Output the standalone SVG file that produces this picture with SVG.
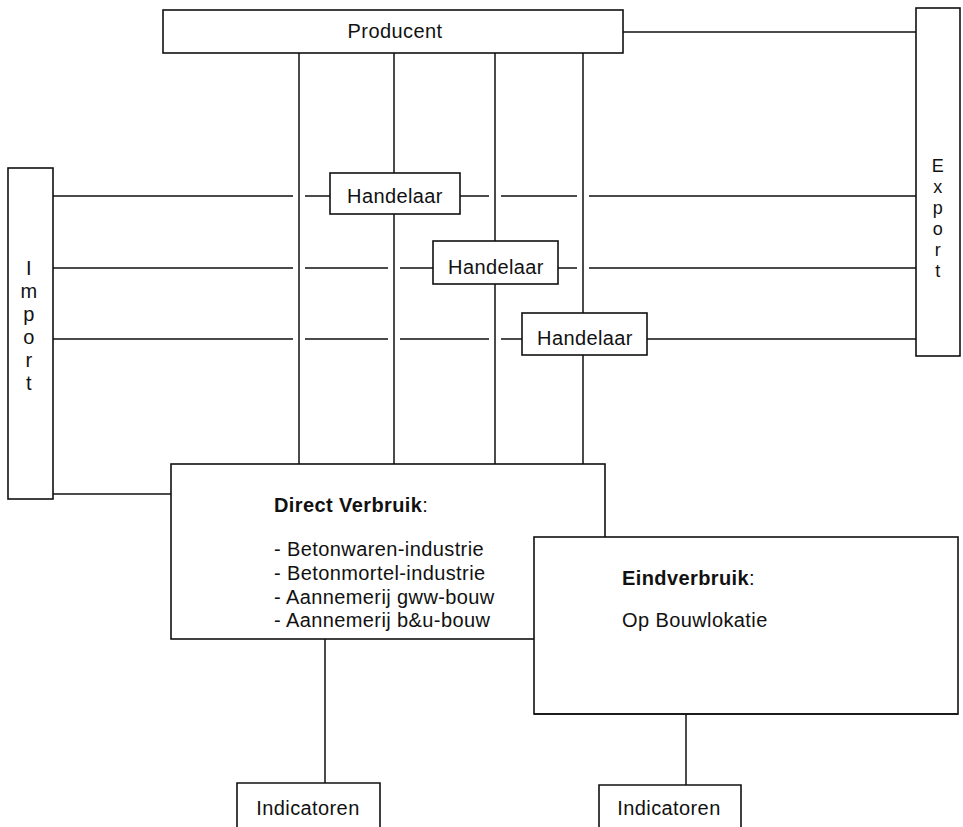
<svg xmlns="http://www.w3.org/2000/svg" width="963" height="827" viewBox="0 0 963 827">
<style>
.box{fill:#fff;stroke:#111;stroke-width:1.6}
.ln{stroke:#111;stroke-width:1.5;fill:none}
.t{font-family:"Liberation Sans",Arial,sans-serif;font-size:20px;fill:#111;letter-spacing:0.4px}
.s{font-size:18px}
.c{text-anchor:middle}
.b{font-weight:bold}
</style>
<rect width="963" height="827" fill="#fff"/>
<g id="connectors" class="ln">
  <path d="M299,53V464M394,53V464M495,53V464M583,53V464"/>
  <path d="M623,32H916"/>
  <path d="M53,196H293M305,196H330M460,196H489M501,196H577M589,196H916"/>
  <path d="M53,268H293M305,268H388M400,268H433M558,268H577M589,268H916"/>
  <path d="M53,339H293M305,339H388M400,339H489M501,339H522M647,339H916"/>
  <path d="M53,494H171"/>
  <path d="M325,639V783"/>
  <path d="M686,714V785"/>
</g>
<g id="producent">
  <rect class="box" x="163" y="10" width="460" height="43"/>
  <text class="t c" x="395" y="38">Producent</text>
</g>
<g id="export">
  <rect class="box" x="916" y="8" width="44" height="348"/>
  <text class="t s c" x="938" y="172">E</text>
  <text class="t s c" x="938" y="193">x</text>
  <text class="t s c" x="938" y="214">p</text>
  <text class="t s c" x="938" y="235">o</text>
  <text class="t s c" x="938" y="256">r</text>
  <text class="t s c" x="938" y="277">t</text>
</g>
<g id="import">
  <rect class="box" x="8" y="168" width="45" height="331"/>
  <text class="t c" x="29" y="275">I</text>
  <text class="t c" x="29" y="298">m</text>
  <text class="t c" x="29" y="321">p</text>
  <text class="t c" x="29" y="344">o</text>
  <text class="t c" x="29" y="367">r</text>
  <text class="t c" x="29" y="390">t</text>
</g>
<g id="handelaar1">
  <rect class="box" x="330" y="173" width="130" height="41"/>
  <text class="t c" x="395" y="203">Handelaar</text>
</g>
<g id="handelaar2">
  <rect class="box" x="433" y="241" width="125" height="43"/>
  <text class="t c" x="496" y="274">Handelaar</text>
</g>
<g id="handelaar3">
  <rect class="box" x="522" y="313" width="125" height="42"/>
  <text class="t c" x="585" y="345">Handelaar</text>
</g>
<g id="direct-verbruik">
  <rect class="box" x="171" y="464" width="434" height="175"/>
  <text class="t" x="274" y="512"><tspan class="b">Direct Verbruik</tspan>:</text>
  <text class="t" x="274" y="556">- Betonwaren-industrie</text>
  <text class="t" x="274" y="580">- Betonmortel-industrie</text>
  <text class="t" x="274" y="604">- Aannemerij gww-bouw</text>
  <text class="t" x="274" y="627">- Aannemerij b&amp;u-bouw</text>
</g>
<g id="eindverbruik">
  <rect class="box" x="534" y="537" width="424" height="177"/>
  <path class="ln" d="M534,714H958" stroke-width="3"/>
  <text class="t" x="622" y="585"><tspan class="b">Eindverbruik</tspan>:</text>
  <text class="t" x="622" y="627">Op Bouwlokatie</text>
</g>
<g id="indicatoren1">
  <path class="box" d="M237,830V783H380V830" fill="none"/>
  <text class="t c" x="308" y="815">Indicatoren</text>
</g>
<g id="indicatoren2">
  <path class="box" d="M599,830V785H741V830" fill="none"/>
  <text class="t c" x="669" y="815">Indicatoren</text>
</g>
</svg>
